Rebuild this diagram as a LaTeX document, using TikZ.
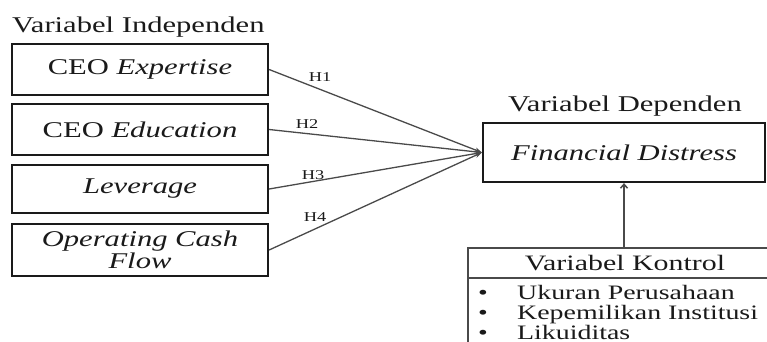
\documentclass[tikz,border=0pt]{standalone}
\usepackage{fontspec}
\setmainfont{Liberation Serif}[FakeStretch=1.36]
\usetikzlibrary{arrows.meta}
\definecolor{ink}{HTML}{1A1A1A}
\definecolor{linegray}{HTML}{4A4A4A}
\tikzset{
  varbox/.style={draw=ink, line width=2.2pt, minimum width=256pt, inner sep=0pt, text=ink, align=center,
    font=\fontsize{22.5}{21.5}\selectfont},
  depbox/.style={draw=ink, line width=2.2pt, minimum width=282pt, minimum height=59pt, inner sep=0pt, text=ink,
    font=\fontsize{22.5}{24}\selectfont},
  title/.style={text=ink, inner sep=0pt, font=\fontsize{22.5}{24}\selectfont},
  ctrltitle/.style={text=ink, inner sep=0pt, font=\fontsize{22}{24}\selectfont},
  item/.style={text=ink, inner sep=0pt, font=\fontsize{20.5}{22}\selectfont},
  hl/.style={text=ink, inner sep=0pt, font=\fontsize{13.5}{14}\selectfont},
  harrow/.style={draw=linegray, line width=1.3pt, -{Stealth[length=7pt,width=5pt]}},
  varrow/.style={draw=linegray, line width=1.5pt, -{Straight Barb[length=4pt,width=7pt]}},
  ctrlline/.style={draw=linegray, line width=1.5pt}
}
\begin{document}
\begin{tikzpicture}[x=1pt,y=-1pt]
\useasboundingbox (0,0) rectangle (767,342);
\clip (0,0) rectangle (767,342);
% titles
\node[title, anchor=base west] (tind) at (12,33) {Variabel Independen};
\node[title, anchor=base] (tdep) at (625,111) {Variabel Dependen};
% independent boxes
\node[varbox, minimum height=51pt] (b1) at (140,69.5) {CEO \textit{Expertise}};
\node[varbox, minimum height=51pt] (b2) at (140,129.5) {CEO \textit{Education}};
\node[varbox, minimum height=48pt] (b3) at (140,189) {\textit{Leverage}};
\node[varbox, minimum height=52pt] (b4) at (140,250) {\textit{Operating Cash}\\\textit{Flow}};
% dependent box
\node[depbox] (dep) at (624,152.5) {\textit{Financial Distress}};
% arrows
\draw[harrow] (b1.east) -- (dep.west);
\draw[harrow] (b2.east) -- (dep.west);
\draw[harrow] (b3.east) -- (dep.west);
\draw[harrow] (b4.east) -- (dep.west);
\node[hl] (h1) at (320,77) {H1};
\node[hl] (h2) at (307,124) {H2};
\node[hl] (h3) at (313,175) {H3};
\node[hl] (h4) at (315,217) {H4};
% control box
\node[ctrlline, draw, anchor=north west, minimum width=340pt, minimum height=120pt, inner sep=0pt] (ctrl) at (467,247) {};
\coordinate (divl) at (467,278);
\coordinate (divr) at (810,278);
\draw[ctrlline] (divl) -- (divr);
\node[ctrltitle, anchor=base] (tctrl) at (625,270) {Variabel Kontrol};
\draw[varrow] (ctrl.north -| dep.south) -- (dep.south);
% items
\node[item, anchor=base] (bu1) at (483,299) {•};
\node[item, anchor=base] (bu2) at (483,319) {•};
\node[item, anchor=base] (bu3) at (483,339) {•};
\node[item, anchor=base west] (i1) at (517,299) {Ukuran Perusahaan};
\node[item, anchor=base west] (i2) at (517,319) {Kepemilikan Institusi};
\node[item, anchor=base west] (i3) at (517,339) {Likuiditas};
\end{tikzpicture}
\end{document}
